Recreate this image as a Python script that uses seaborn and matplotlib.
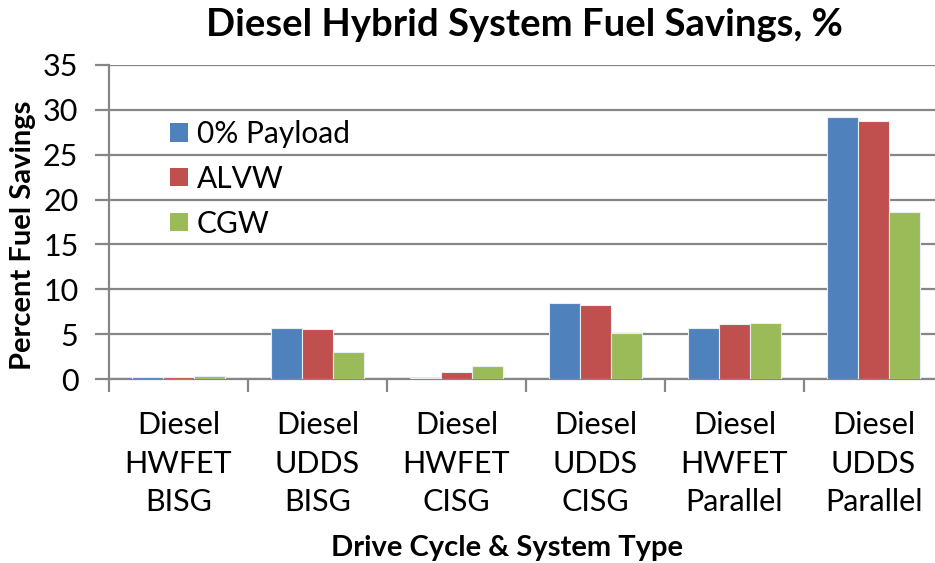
import matplotlib
matplotlib.use("Agg")
import matplotlib.pyplot as plt
import seaborn as sns
import pandas as pd
import numpy as np

categories = [
    "Diesel\nHWFET\nBISG",
    "Diesel\nUDDS\nBISG",
    "Diesel\nHWFET\nCISG",
    "Diesel\nUDDS\nCISG",
    "Diesel\nHWFET\nParallel",
    "Diesel\nUDDS\nParallel",
]
series_names = ["0% Payload", "ALVW", "CGW"]
payload_0 = [0.3, 5.7, 0.2, 8.5, 5.7, 29.2]
alvw = [0.3, 5.6, 0.85, 8.3, 6.1, 28.7]
cgw = [0.4, 3.0, 1.45, 5.1, 6.3, 18.6]
colors = ["#4F81BD", "#C0504D", "#9BBB59"]
y_ticks = [0, 5, 10, 15, 20, 25, 30, 35]

rows = []
for name, vals in zip(series_names, [payload_0, alvw, cgw]):
    for cat, v in zip(categories, vals):
        rows.append({"cycle": cat, "load": name, "savings": v})
df = pd.DataFrame(rows)

sns.set_theme(style="white")
plt.rcParams["font.family"] = ["Lato", "DejaVu Sans"]
plt.rcParams["text.color"] = "black"
plt.rcParams["axes.labelcolor"] = "black"
plt.rcParams["xtick.color"] = "black"
plt.rcParams["ytick.color"] = "black"

fig = plt.figure(figsize=(9.35, 5.63), dpi=100)
ax = fig.add_axes([109 / 935, 1 - 379.3 / 563, 834 / 935, 314.6 / 563])

grid_c = "#868686"
sns.barplot(
    data=df, x="cycle", y="savings", hue="load", order=categories,
    hue_order=series_names, palette=colors, saturation=1, width=0.67,
    edgecolor="#e8eef5", linewidth=0.8, ax=ax, zorder=3, legend=True,
)

ax.set_ylim(0, 35)
ax.set_xlim(-0.5, len(categories) - 0.5)
ax.set_yticks(y_ticks)
ax.yaxis.grid(True, color=grid_c, linewidth=1.6, zorder=0)
ax.set_axisbelow(True)
for s in ["top", "right"]:
    ax.spines[s].set_visible(False)
for s in ["left", "bottom"]:
    ax.spines[s].set_color(grid_c)
    ax.spines[s].set_linewidth(1.6)

ax.tick_params(axis="y", which="major", length=10, width=1.6, color=grid_c,
               labelsize=22, pad=12, left=True, labelcolor="black")
ax.tick_params(axis="x", which="major", length=0, labelsize=22, pad=23,
               labelcolor="black")
ax.set_xticks(np.arange(-0.5, len(categories), 1.0), minor=True)
ax.tick_params(axis="x", which="minor", length=9, width=1.6, color=grid_c,
               bottom=True)
for lbl in ax.get_xticklabels():
    lbl.set_linespacing(1.45)

ax.set_xlabel("")
ax.set_ylabel("Percent Fuel Savings", fontsize=21, fontweight="bold")
ax.yaxis.set_label_coords(-0.087, 0.459)
fig.text(507 / 935, 1 - 548 / 563, "Drive Cycle & System Type", ha="center",
         va="center", fontsize=21, fontweight="bold")
fig.text(524 / 935, 1 - 25 / 563, "Diesel Hybrid System Fuel Savings, %",
         ha="center", va="center", fontsize=27.5, fontweight="bold")

leg = ax.legend(loc="upper left", bbox_to_anchor=(0.059, 0.862), frameon=False,
                fontsize=21.5, handlelength=0.6, handleheight=0.57,
                handletextpad=0.3, labelspacing=0.56, borderaxespad=0)
for h in leg.legend_handles:
    h.set_edgecolor("none")

fig.savefig("out.png", dpi=100)
